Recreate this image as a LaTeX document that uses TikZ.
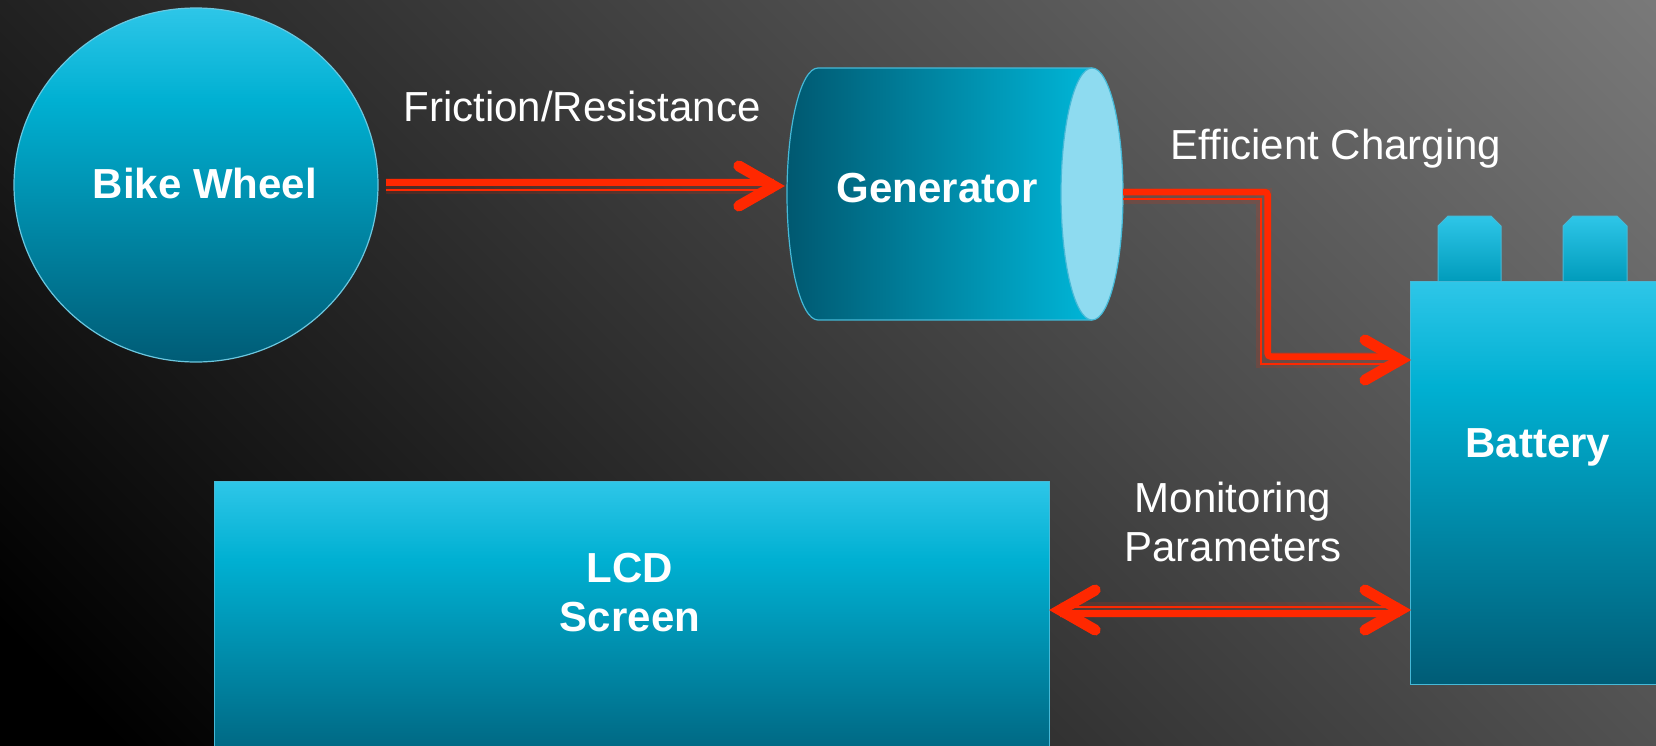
\documentclass[tikz,border=0pt]{standalone}
\usepackage{fontspec}
\setmainfont{Liberation Sans}
\usetikzlibrary{shapes.geometric,calc}
\definecolor{redc}{RGB}{255,40,0}
\definecolor{tlight}{RGB}{46,198,232}
\definecolor{tmid}{RGB}{0,176,210}
\definecolor{tdark}{RGB}{0,92,118}
\definecolor{edgec}{RGB}{70,185,215}
\definecolor{capc}{RGB}{142,219,240}
\definecolor{gdark}{RGB}{0,88,112}
\definecolor{glight}{RGB}{0,182,216}
\definecolor{bgA}{RGB}{0,0,0}
\definecolor{bgC}{RGB}{122,122,122}
\definecolor{bgD}{RGB}{130,130,130}
\pgfdeclareverticalshading{tealsh}{100bp}{color(0bp)=(tdark); color(25bp)=(tdark); color(62bp)=(tmid); color(75bp)=(tlight); color(100bp)=(tlight)}
\pgfdeclarehorizontalshading{bgsh}{100bp}{color(0bp)=(bgA); color(18bp)=(bgA); color(86bp)=(bgC); color(100bp)=(bgD)}
\tikzset{
  boxsty/.style={rectangle, shade, shading=tealsh, draw=edgec, line width=1.2, inner sep=0},
  lbl/.style={text=white, font=\fontsize{42}{49}\selectfont, inner sep=0},
  lblb/.style={lbl, font=\bfseries\fontsize{42}{50}\selectfont},
  thickln/.style={draw=redc, line width=6.5},
  thinln/.style={draw=redc, line width=2},
  glow/.style={draw=redc, line width=16, opacity=0.15},
  headsty/.style={draw=redc, line width=11, line cap=round, line join=miter},
}
\begin{document}
\begin{tikzpicture}[x=1pt,y=-1pt]
\useasboundingbox (0,0) rectangle (1656,745);
\shade[shading=bgsh, shading angle=45] (0,0) rectangle (1656,745);
\begin{scope}
\clip (0,0) rectangle (1656,745);
% Bike wheel
\node[boxsty, ellipse, minimum width=364, minimum height=354, draw=edgec!80!white] (wheel) at (196,185) {};
\node[lblb] (wheeltxt) at (205,183) {Bike Wheel};
% Generator
\node[minimum width=336, minimum height=252, inner sep=0] (gen) at (955,194) {};
\fill[left color=gdark, right color=glight] (818,68) -- (1092,68) -- (1092,320) -- (818,320) arc[start angle=90, end angle=270, x radius=31, y radius=126] -- cycle;
\draw[edgec, line width=1.2] (818,68) -- (1092,68) (1092,320) -- (818,320) arc[start angle=90, end angle=270, x radius=31, y radius=126];
\filldraw[fill=capc, draw=edgec, line width=1.2] (1092,194) ellipse[x radius=31, y radius=126];
\node[lblb] (gentxt) at (937,188) {Generator};
% Battery
\shade[top color=tlight, bottom color=tmid!75!tdark, draw=edgec, line width=1] (1438,282) -- (1438,226) -- (1448,216) -- (1491,216) -- (1501,226) -- (1501,282) -- cycle;
\shade[top color=tlight, bottom color=tmid!75!tdark, draw=edgec, line width=1] (1563,282) -- (1563,226) -- (1573,216) -- (1617,216) -- (1627,226) -- (1627,282) -- cycle;
\node[boxsty, minimum width=256, minimum height=403, anchor=north west] (bat) at (1410,281) {};
\node[lblb] (battxt) at (1538,447) {Battery};
% LCD
\node[boxsty, minimum width=835, minimum height=300, anchor=north west] (lcd) at (214,481) {};
\node[lblb, align=center] (lcdtxt) at (630,593) {LCD\\[-1pt]Screen};
% labels
\node[lbl] (l1) at (582,106) {Friction/Resistance};
\node[lbl] (l2) at (1336,149) {Efficient Charging};
\node[lbl, align=center] (l3) at (1233,522) {Monitoring\\Parameters};
% arrow 1
\coordinate (a1s) at ($(wheel.east)+(7,1)$);
\coordinate (t1) at ($(a1s -| gen.west)+(-3,0)$);
\draw[glow] (a1s) -- ($(t1)+(-10,0)$);
\draw[thickln] ($(a1s)+(0,-3.5)$) -- ($(t1)+(-10,-3.5)$);
\draw[thinln] ($(a1s)+(0,3.5)$) -- ($(t1)+(-10,3.5)$);
\draw[headsty] ($(t1)+(-45,-20)$) -- ($(t1)+(-10,0)$) -- ($(t1)+(-45,20)$);
% arrow 2
\coordinate (a2s) at ($(gen.east)+(0,1.5)$);
\coordinate (t2) at ($(bat.north west)+(0,79)$);
\coordinate (c2a) at ($(a2s)+(141,0)$);
\coordinate (c2b) at (c2a |- t2);
\draw[glow] (a2s) -- (c2a) -- (c2b) -- ($(t2)+(-10,0)$);
\draw[thickln, rounded corners=3] ($(a2s)+(0,-3.5)$) -- ($(c2a)+(3.5,-3.5)$) -- ($(c2b)+(3.5,-3.5)$) -- ($(t2)+(-10,-3.5)$);
\draw[thinln] ($(a2s)+(0,3.5)$) -- ($(c2a)+(-3.5,3.5)$) -- ($(c2b)+(-3.5,3.5)$) -- ($(t2)+(-10,3.5)$);
\draw[headsty] ($(t2)+(-45,-20)$) -- ($(t2)+(-10,0)$) -- ($(t2)+(-45,20)$);
% arrow 3
\coordinate (tl) at ($(lcd.north east)+(0,129)$);
\coordinate (tr) at (tl -| bat.west);
\draw[glow] ($(tl)+(10,0)$) -- ($(tr)+(-10,0)$);
\draw[thickln] ($(tr)+(-10,3.5)$) -- ($(tl)+(10,3.5)$);
\draw[thinln] ($(tr)+(-10,-3.5)$) -- ($(tl)+(10,-3.5)$);
\draw[headsty] ($(tr)+(-45,-20)$) -- ($(tr)+(-10,0)$) -- ($(tr)+(-45,20)$);
\draw[headsty] ($(tl)+(45,-20)$) -- ($(tl)+(10,0)$) -- ($(tl)+(45,20)$);
\end{scope}
\end{tikzpicture}
\end{document}
